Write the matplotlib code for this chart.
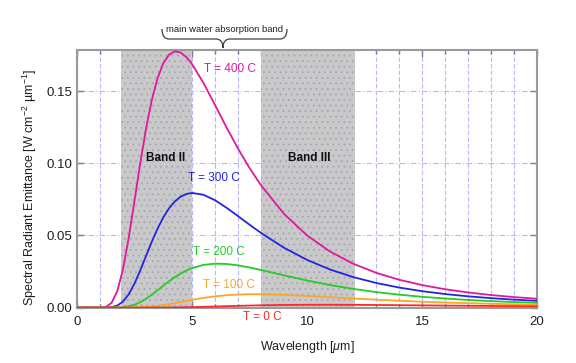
import matplotlib
matplotlib.use("Agg")
import matplotlib.pyplot as plt
from matplotlib.path import Path
from matplotlib.patches import PathPatch
from matplotlib.ticker import MultipleLocator

plt.rcParams['font.family'] = ['Liberation Sans', 'DejaVu Sans']
plt.rcParams['mathtext.fontset'] = 'custom'
plt.rcParams['mathtext.rm'] = 'Liberation Sans'
plt.rcParams['mathtext.it'] = 'Liberation Sans:italic'
plt.rcParams['hatch.linewidth'] = 0.6

# wavelength (um)
wavelength = [0, 1.0, 1.25, 1.5, 1.75, 2.0, 2.25, 2.5, 2.75, 3.0, 3.25, 3.5, 3.75,
              4.0, 4.25, 4.5, 4.75, 5.0, 5.5, 6.0, 6.5, 7, 7.5, 8, 9, 10, 11, 12,
              13, 14, 15, 16, 17, 18, 19, 20]

# spectral radiant emittance [W cm^-2 um^-1]
t400 = [0, 0.00002, 0.00046, 0.00318, 0.01128, 0.02663, 0.04847, 0.07405, 0.10008,
        0.12386, 0.14369, 0.15883, 0.16924, 0.17522, 0.17754, 0.17679, 0.17368,
        0.16881, 0.15562, 0.14040, 0.12490, 0.11020, 0.09675, 0.08474, 0.06496,
        0.05001, 0.03883, 0.03044, 0.02412, 0.01930, 0.01560, 0.01272, 0.01047,
        0.008687, 0.007262, 0.006114]
t300 = [0, 0, 0.00002, 0.000265, 0.001337, 0.004124, 0.009235, 0.01665, 0.02576,
        0.03568, 0.04555, 0.05461, 0.06244, 0.06876, 0.07352, 0.07679, 0.07870,
        0.07945, 0.07817, 0.07438, 0.06918, 0.06338, 0.05745, 0.05173, 0.04147,
        0.03307, 0.02639, 0.02116, 0.01708, 0.01388, 0.01137, 0.009382, 0.007797,
        0.006525, 0.005497, 0.004659]
t200 = [0, 0, 0, 0.00001, 0.000064, 0.00029, 0.000872, 0.00199, 0.003738, 0.006077,
        0.008888, 0.011974, 0.015143, 0.018208, 0.02104, 0.023539, 0.02565, 0.027357,
        0.029584, 0.030428, 0.030211, 0.02924, 0.027791, 0.026067, 0.022337,
        0.018761, 0.015609, 0.012946, 0.010743, 0.008939, 0.007468, 0.006267,
        0.005286, 0.004481, 0.003818, 0.003269]
t100 = [0, 0, 0, 0, 0, 0.000005, 0.000023, 0.000076, 0.000192, 0.000401, 0.000723,
        0.001165, 0.001721, 0.002369, 0.003087, 0.00384, 0.0046, 0.005345, 0.006695,
        0.00778, 0.008558, 0.009039, 0.009261, 0.00927, 0.008841, 0.008074,
        0.007185, 0.006294, 0.005466, 0.004725, 0.004077, 0.003518, 0.00304,
        0.002631, 0.002284, 0.001988]
t0 = [0, 0, 0, 0, 0, 0, 0, 0, 0, 0.000004, 0.00001, 0.00002, 0.00004, 0.000069,
      0.000111, 0.000166, 0.000235, 0.000316, 0.000513, 0.000737, 0.000971,
      0.001197, 0.001401, 0.001575, 0.001819, 0.001934, 0.001945, 0.001884,
      0.00178, 0.001651, 0.001513, 0.001375, 0.001243, 0.001119, 0.001006, 0.000903]

series = [t400, t300, t200, t100, t0]
series_labels = ['T = 400 C', 'T = 300 C', 'T = 200 C', 'T = 100 C', 'T = 0 C']
colors = ['#e0189c', '#2424e0', '#24cc24', '#ffa424', '#ff2828']
label_pos = [(6.67, 0.1655), (5.95, 0.0895), (6.15, 0.0387), (6.6, 0.0155), (8.05, -0.0062)]

bands = [(1.9, 5.0), (8.0, 12.1)]
band_labels = ['Band II', 'Band III']
band_label_pos = [(3.85, 0.1034), (10.1, 0.1034)]

W, H = 576, 363
fig = plt.figure(figsize=(W / 100, H / 100), dpi=100)
ax = fig.add_axes([77 / W, 1 - 308 / H, 460 / W, 258 / H])

ax.set_xlim(0, 20)
ax.set_ylim(-0.0003, 0.1785)

# grid
ax.xaxis.set_major_locator(MultipleLocator(5))
ax.xaxis.set_minor_locator(MultipleLocator(1))
ax.yaxis.set_major_locator(MultipleLocator(0.05))
ax.grid(which='both', axis='x', color='#b8b8ff', linestyle=(0, (4, 2)), linewidth=0.8)
ax.grid(which='major', axis='y', color='#b8b8ff', linestyle=(0, (5, 2, 1, 2)), linewidth=0.8)
ax.set_axisbelow(True)

# bands
for (a, b) in bands:
    ax.axvspan(a, b, facecolor='#c9c9c9', edgecolor='#a4a4bc', hatch='...',
               linewidth=0, zorder=1.5)
for txt, (x, y) in zip(band_labels, band_label_pos):
    ax.text(x, y, txt, ha='center', va='center', fontsize=8.5, fontweight='bold',
            color='#101010', zorder=4)

for ys, c in zip(series, colors):
    ax.plot(wavelength, ys, color=c, linewidth=1.3, zorder=3)
for txt, c, (x, y) in zip(series_labels, colors, label_pos):
    ax.text(x, y, txt, ha='center', va='center', fontsize=8.5, color=c,
            clip_on=False, zorder=4)

ax.set_yticks([0, 0.05, 0.10, 0.15])
ax.set_yticklabels(['0.00', '0.05', '0.10', '0.15'])
ax.set_xticks([0, 5, 10, 15, 20])
ax.tick_params(which='both', direction='in', top=True, right=True, colors='#808080',
               labelcolor='#202020', labelsize=9.5)
ax.tick_params(which='major', length=5, width=1)
ax.tick_params(which='minor', length=3, width=1)
ax.tick_params(axis='x', pad=6)
for s in ax.spines.values():
    s.set_color('#9a9a9a')
    s.set_linewidth(1.5)

ax.set_xlabel(r'Wavelength [$\mu$m]', fontsize=9, color='#202020', labelpad=8)
ax.set_ylabel('Spectral Radiant Emittance [W cm$^{-2}$ \u00b5m$^{-1}$]', fontsize=9,
              color='#202020')
ax.yaxis.set_label_coords(-0.083, 0.467)

# brace above
def px(x, y):
    return (x / W, 1 - y / H)

xl, xr, xt = 162, 287, 223
yt, ym, ytip = 29, 39, 48
verts = [px(xl, yt), px(xl, ym), px(xl + 7, ym),
         px(xt - 7, ym), px(xt, ym), px(xt, ytip),
         px(xt, ym), px(xt + 7, ym),
         px(xr - 7, ym), px(xr, ym), px(xr, yt)]
codes = [Path.MOVETO, Path.CURVE3, Path.CURVE3,
         Path.LINETO, Path.CURVE3, Path.CURVE3,
         Path.CURVE3, Path.CURVE3,
         Path.LINETO, Path.CURVE3, Path.CURVE3]
fig.patches.append(PathPatch(Path(verts, codes), transform=fig.transFigure,
                             facecolor='none', edgecolor='#404040', linewidth=0.9))
fig.text(xt / W + 1 / W, 1 - 30 / H, 'main water absorption band', ha='center', va='center',
         fontsize=6.8, color='#202020')

fig.savefig('out.png', dpi=100)
